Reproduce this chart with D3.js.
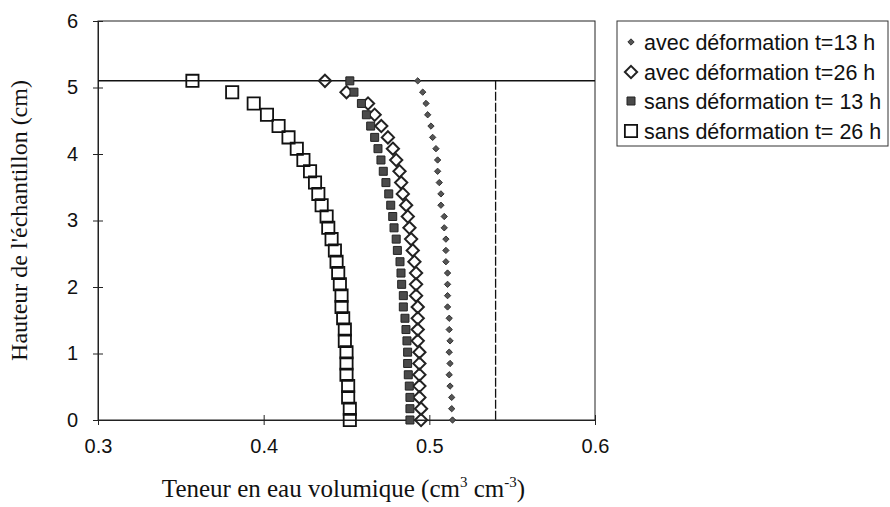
<!DOCTYPE html>
<html><head><meta charset="utf-8">
<script src="https://cdn.jsdelivr.net/npm/d3@7"></script>
<style>
html,body{margin:0;padding:0;background:#fff;}
svg{display:block;}
</style></head>
<body><svg id="chart" width="890" height="507"></svg>
<script>
// Heights (cm), from top of sample to bottom
const heights = [5.10,4.93,4.76,4.59,4.42,4.25,4.08,3.91,3.74,3.57,3.40,3.23,3.06,2.89,2.72,2.55,2.38,2.21,2.04,1.87,1.70,1.53,1.36,1.19,1.02,0.85,0.68,0.51,0.34,0.17,0.00];
// Volumetric water content series
const avec13 = [0.493,0.496,0.498,0.499,0.501,0.502,0.504,0.505,0.505,0.506,0.507,0.507,0.509,0.509,0.510,0.510,0.510,0.511,0.511,0.511,0.511,0.512,0.512,0.5125,0.512,0.5125,0.512,0.5125,0.5135,0.5135,0.514];
const avec26 = [0.437,0.450,0.463,0.467,0.471,0.475,0.478,0.480,0.482,0.483,0.484,0.486,0.487,0.488,0.489,0.490,0.491,0.492,0.492,0.492,0.493,0.493,0.493,0.493,0.494,0.494,0.494,0.494,0.494,0.495,0.495];
const sans13 = [0.452,0.4545,0.459,0.462,0.4646,0.467,0.469,0.4708,0.4722,0.4738,0.4755,0.4767,0.4779,0.4787,0.480,0.4807,0.4823,0.4829,0.4833,0.4843,0.4843,0.4853,0.4859,0.4865,0.4869,0.4869,0.4873,0.4879,0.4883,0.4883,0.4883];
const sans26 = [0.357,0.381,0.394,0.402,0.409,0.415,0.420,0.424,0.428,0.431,0.433,0.435,0.438,0.439,0.441,0.443,0.444,0.445,0.446,0.447,0.447,0.448,0.449,0.449,0.450,0.450,0.450,0.451,0.451,0.452,0.452];
const seriesNames = ["avec déformation t=13 h","avec déformation t=26 h","sans déformation t= 13 h","sans déformation t= 26 h"];
const xTicks = [0.3,0.4,0.5,0.6];
const yTicks = [0,1,2,3,4,5,6];
const sampleTop = 5.1;      // horizontal line (surface of sample)
const saturation = 0.54;    // vertical dashed line

const svg = d3.select("#chart");
const L = 98, R = 595, T = 21, B = 420;
const x = d3.scaleLinear().domain([0.3,0.6]).range([L,R]);
const y = d3.scaleLinear().domain([0,6]).range([B,T]);

// custom square-diamond symbol
const diamondSq = { draw(ctx, size){ const r = Math.sqrt(size)/2; ctx.moveTo(0,-r); ctx.lineTo(r,0); ctx.lineTo(0,r); ctx.lineTo(-r,0); ctx.closePath(); } };

// frame
svg.append("rect").attr("x",L).attr("y",T).attr("width",R-L).attr("height",B-T)
  .attr("fill","none").attr("stroke","#222").attr("stroke-width",1);

// axes
const xAxis = d3.axisBottom(x).tickValues(xTicks).tickFormat(d3.format(".1f")).tickSizeInner(5).tickSizeOuter(0).tickPadding(14);
const gx = svg.append("g").attr("transform",`translate(0,${B})`).call(xAxis);
gx.select(".domain").attr("stroke","#222");
gx.selectAll(".tick line").attr("y1",-5).attr("y2",5).attr("stroke","#222");
gx.selectAll("text").attr("font-family","'Liberation Sans',Arial,sans-serif").attr("font-size",20).attr("fill","#111");

const yAxis = d3.axisLeft(y).tickValues(yTicks).tickFormat(d3.format("d")).tickSizeInner(5).tickSizeOuter(0).tickPadding(15);
const gy = svg.append("g").attr("transform",`translate(${L},0)`).call(yAxis);
gy.select(".domain").attr("stroke","#222");
gy.selectAll(".tick line").attr("x1",-5).attr("x2",5).attr("stroke","#222");
gy.selectAll("text").attr("font-family","'Liberation Sans',Arial,sans-serif").attr("font-size",20).attr("fill","#111");

// reference lines
svg.append("line").attr("x1",x(0.3)).attr("x2",x(0.6)).attr("y1",y(sampleTop)).attr("y2",y(sampleTop))
  .attr("stroke","#111").attr("stroke-width",1.5);
svg.append("line").attr("x1",x(saturation)).attr("x2",x(saturation)).attr("y1",y(sampleTop)).attr("y2",y(0))
  .attr("stroke","#111").attr("stroke-width",1.3).attr("stroke-dasharray","9,2");

const styles = [
  {data: avec13, path: d3.symbol().type(diamondSq).size(40)(), fill:"#555", stroke:"#333", sw:1},
  {data: avec26, path: d3.symbol().type(diamondSq).size(150)(), fill:"none", stroke:"#222", sw:2},
  {data: sans13, path: d3.symbol().type(d3.symbolSquare).size(64)(), fill:"#4a4a4a", stroke:"#222", sw:1},
  {data: sans26, path: d3.symbol().type(d3.symbolSquare).size(150)(), fill:"none", stroke:"#111", sw:1.8}
];

styles.forEach(s=>{
  svg.append("g").selectAll("path").data(s.data.map((v,i)=>({v,h:heights[i]})))
    .join("path").attr("d",s.path)
    .attr("transform",d=>`translate(${x(d.v)},${y(d.h)})`)
    .attr("fill",s.fill).attr("stroke",s.stroke).attr("stroke-width",s.sw);
});

// axis titles
svg.append("text").attr("transform",`translate(27,${(T+B)/2}) rotate(-90)`)
  .attr("text-anchor","middle").attr("font-family","'Liberation Serif','Times New Roman',serif")
  .attr("font-size",24).attr("fill","#111").text("Hauteur de l'échantillon (cm)");

const xt = svg.append("text").attr("x",(L+R)/2 - 3).attr("y",497).attr("text-anchor","middle")
  .attr("font-family","'Liberation Serif','Times New Roman',serif").attr("font-size",25).attr("fill","#111");
xt.append("tspan").text("Teneur en eau volumique (cm");
xt.append("tspan").attr("dy",-10).attr("font-size",15).text("3");
xt.append("tspan").attr("dy",10).text(" cm");
xt.append("tspan").attr("dy",-10).attr("font-size",15).text("-3");
xt.append("tspan").attr("dy",10).text(")");

// legend
const lg = svg.append("g");
lg.append("rect").attr("x",617).attr("y",21).attr("width",271).attr("height",125)
  .attr("fill","#fff").attr("stroke","#333").attr("stroke-width",1);
const legY = [42,72,101,131];
styles.forEach((s,i)=>{
  lg.append("path").attr("d",s.path).attr("transform",`translate(631,${legY[i]})`)
    .attr("fill",s.fill).attr("stroke",s.stroke).attr("stroke-width",s.sw);
  lg.append("text").attr("x",644).attr("y",legY[i]).attr("dy","0.36em")
    .attr("font-family","'Liberation Sans',Arial,sans-serif").attr("font-size",21.5).attr("fill","#111")
    .text(seriesNames[i]);
});
</script></body></html>
